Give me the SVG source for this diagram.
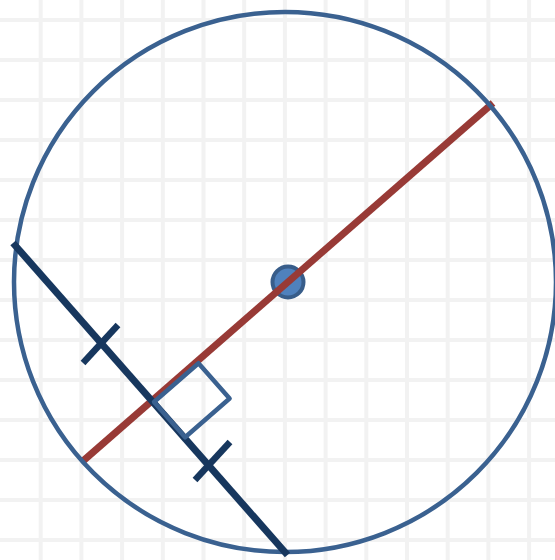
<svg xmlns="http://www.w3.org/2000/svg" width="555" height="560" viewBox="0 0 555 560">
<style>
.grid line{stroke:#f2f2f2;stroke-width:4}
.circ{fill:none;stroke:#3a6190;stroke-width:4.5}
.diam{stroke:#983a36;stroke-width:7;stroke-linecap:butt}
.chord{stroke:#17375e;stroke-width:7;stroke-linecap:butt}
.tick{stroke:#17375e;stroke-width:6.5;stroke-linecap:butt}
.ra{fill:none;stroke:#3a6190;stroke-width:4.5;stroke-linejoin:round}
.dot{fill:#4f81bd;stroke:#385d8a;stroke-width:4}
</style>
<rect width="555" height="560" fill="#ffffff"/>
<g class="grid">
<line x1="40.7" y1="0" x2="40.7" y2="560"/>
<line x1="81.4" y1="0" x2="81.4" y2="560"/>
<line x1="122.1" y1="0" x2="122.1" y2="560"/>
<line x1="162.8" y1="0" x2="162.8" y2="560"/>
<line x1="203.5" y1="0" x2="203.5" y2="560"/>
<line x1="244.2" y1="0" x2="244.2" y2="560"/>
<line x1="284.9" y1="0" x2="284.9" y2="560"/>
<line x1="325.6" y1="0" x2="325.6" y2="560"/>
<line x1="366.3" y1="0" x2="366.3" y2="560"/>
<line x1="407" y1="0" x2="407" y2="560"/>
<line x1="447.7" y1="0" x2="447.7" y2="560"/>
<line x1="488.4" y1="0" x2="488.4" y2="560"/>
<line x1="529.1" y1="0" x2="529.1" y2="560"/>
<line x1="0" y1="20" x2="555" y2="20"/>
<line x1="0" y1="60" x2="555" y2="60"/>
<line x1="0" y1="100" x2="555" y2="100"/>
<line x1="0" y1="140" x2="555" y2="140"/>
<line x1="0" y1="180" x2="555" y2="180"/>
<line x1="0" y1="220" x2="555" y2="220"/>
<line x1="0" y1="260" x2="555" y2="260"/>
<line x1="0" y1="300" x2="555" y2="300"/>
<line x1="0" y1="340" x2="555" y2="340"/>
<line x1="0" y1="380" x2="555" y2="380"/>
<line x1="0" y1="420" x2="555" y2="420"/>
<line x1="0" y1="460" x2="555" y2="460"/>
<line x1="0" y1="500" x2="555" y2="500"/>
<line x1="0" y1="540" x2="555" y2="540"/>
</g>
<g id="center">
<circle class="dot" cx="288" cy="282" r="15.5"/>
</g>
<g id="connectors">
<line id="diameter" class="diam" x1="83" y1="461" x2="493" y2="103"/>
</g>
<g id="circle">
<ellipse class="circ" cx="285" cy="282" rx="271" ry="270"/>
</g>
<g id="chord">
<line class="chord" x1="13" y1="243" x2="287.5" y2="555"/>
<line class="tick" x1="83" y1="363" x2="118" y2="325"/>
<line class="tick" x1="195" y1="480" x2="230" y2="442"/>
</g>
<g id="right-angle">
<polygon class="ra" points="154,402 198.5,363.2 229.6,398.5 185.1,437.3"/>
</g>
</svg>
